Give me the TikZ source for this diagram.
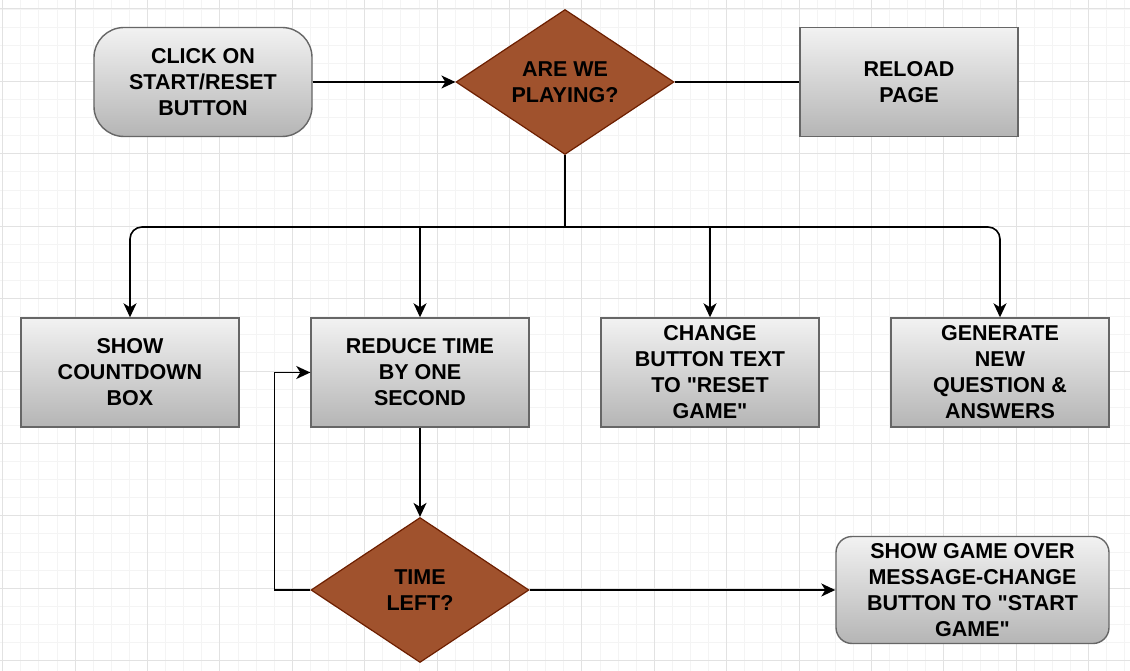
\documentclass[tikz,border=0pt]{standalone}
\usepackage{fontspec}
\setmainfont{Liberation Sans}[Ligatures=TeXOff]
\usetikzlibrary{shapes.geometric,arrows.meta}
\newcommand\dq{\symbol{34}}
\definecolor{gmajor}{HTML}{E2E2E2}
\definecolor{gminor}{HTML}{F4F4F4}
\definecolor{dfill}{HTML}{A0522D}
\definecolor{dstroke}{HTML}{6D1F00}
\definecolor{boxstroke}{HTML}{666666}
\definecolor{gtop}{HTML}{F2F2F2}
\definecolor{gbot}{HTML}{B5B5B5}
\tikzset{
  lbl/.style={font=\bfseries\fontsize{21.5}{26}\selectfont, align=center, text=black, inner sep=0pt},
  gbox/.style={lbl, rectangle, draw=boxstroke, line width=1.4pt, top color=gtop, bottom color=gbot,
     minimum width=218pt, minimum height=109pt},
  rbox/.style={gbox, rounded corners=#1},
  dec/.style={lbl, diamond, draw=dstroke, line width=1.2pt, fill=dfill, aspect=1.5,
     minimum width=218pt, minimum height=145pt},
  conn/.style={draw=black, line width=1.6pt},
  arr/.style={conn, -{Stealth[length=14pt,width=13pt,inset=4pt]}},
}
\begin{document}
\begin{tikzpicture}[x=1pt,y=-1pt]
\useasboundingbox (0,0) rectangle (1130,671);
\fill[white] (0,0) rectangle (1130,671);
\begin{scope}
\clip (0,0) rectangle (1130,671);
\foreach \i in {0,...,64} \draw[gminor, line width=0.9pt] ({2.7+18.1*(\i-1)},0) -- ({2.7+18.1*(\i-1)},671);
\foreach \i in {0,...,39} \draw[gminor, line width=0.9pt] (0,{9+18.1*(\i-1)}) -- (1130,{9+18.1*(\i-1)});
\foreach \i in {0,...,16} \draw[gmajor, line width=1pt] ({2.7+72.4*\i},0) -- ({2.7+72.4*\i},671);
\foreach \i in {0,...,9} \draw[gmajor, line width=1pt] (0,{9+72.4*\i}) -- (1130,{9+72.4*\i});
\end{scope}

\node[rbox=30pt] (start) at (203,82) {CLICK ON\\START/RESET\\BUTTON};
\node[dec] (q1) at (565,82) {ARE WE\\PLAYING?};
\node[gbox] (reload) at (909,82) {RELOAD\\PAGE};

\node[gbox] (b1) at (130,372.5) {SHOW\\COUNTDOWN\\BOX};
\node[gbox] (b2) at (420,372.5) {REDUCE TIME\\BY ONE\\SECOND};
\node[gbox] (b3) at (710,372.5) {CHANGE\\BUTTON TEXT\\TO \dq RESET\\GAME\dq};
\node[gbox] (b4) at (1000,372.5) {GENERATE\\NEW\\QUESTION \&\\ANSWERS};

\node[dec] (q2) at (420,590) {TIME\\LEFT?};
\node[rbox=16pt, minimum width=273pt, minimum height=107pt] (endbox) at (972.5,590) {SHOW GAME OVER\\MESSAGE-CHANGE\\BUTTON TO \dq START\\GAME\dq};

\coordinate (j) at (565,227);

\draw[arr] (start) -- (q1);
\draw[conn] (q1) -- (reload);
\draw[conn] (q1.south) -- (j);
\draw[arr, rounded corners=12pt] (j) -| (b1.north);
\draw[arr, rounded corners=12pt] (j) -| (b4.north);
\draw[arr] (b2.north |- j) -- (b2.north);
\draw[arr] (b3.north |- j) -- (b3.north);
\draw[arr] (b2) -- (q2);
\draw[arr] (q2.west) -- ++(-36,0) |- (b2.west);
\draw[arr] (q2.east) -- (endbox.west);
\end{tikzpicture}
\end{document}
